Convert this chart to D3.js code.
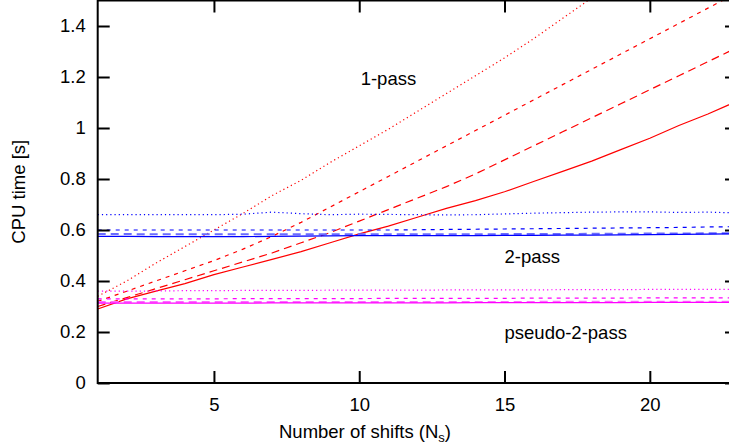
<!DOCTYPE html>
<html>
<head>
<meta charset="utf-8">
<script src="https://cdn.jsdelivr.net/npm/d3@7"></script>
<style>
  body { margin: 0; background: #fff; }
  text { font-family: "Liberation Sans", Arial, sans-serif; fill: #000; }
</style>
</head>
<body>
<script>
// number of shifts
var shifts = d3.range(1, 24);

// 1-pass (red)
var onePassDot   = [0.34,0.40,0.47,0.535,0.60,0.665,0.735,0.795,0.865,0.93,0.995,1.065,1.135,1.205,1.275,1.35,1.43,1.51,1.59,1.67,1.75,1.83,1.91];
var onePassShort = [0.32,0.36,0.40,0.44,0.48,0.525,0.575,0.63,0.69,0.75,0.81,0.87,0.93,0.99,1.05,1.11,1.17,1.23,1.29,1.35,1.41,1.47,1.53];
var onePassLong  = [0.30,0.335,0.37,0.405,0.44,0.475,0.51,0.55,0.59,0.635,0.68,0.725,0.77,0.82,0.875,0.93,0.985,1.04,1.095,1.15,1.205,1.26,1.315];
var onePassSolid = [0.29,0.33,0.36,0.39,0.425,0.455,0.485,0.515,0.55,0.585,0.615,0.65,0.685,0.715,0.75,0.79,0.83,0.87,0.915,0.96,1.01,1.055,1.105];

// 2-pass (blue)
var twoPassDot   = [0.66,0.66,0.66,0.66,0.66,0.662,0.67,0.664,0.66,0.662,0.661,0.66,0.659,0.66,0.663,0.666,0.668,0.67,0.671,0.671,0.669,0.67,0.667];
var twoPassShort = [0.60,0.60,0.60,0.60,0.60,0.60,0.60,0.60,0.60,0.60,0.60,0.601,0.602,0.603,0.604,0.605,0.606,0.607,0.608,0.609,0.61,0.612,0.613];
var twoPassLong  = [0.584,0.584,0.583,0.583,0.583,0.583,0.583,0.583,0.583,0.583,0.583,0.583,0.583,0.583,0.584,0.584,0.584,0.585,0.585,0.586,0.586,0.587,0.587];
var twoPassSolid = [0.575,0.575,0.574,0.574,0.574,0.574,0.575,0.576,0.577,0.578,0.578,0.578,0.578,0.578,0.579,0.579,0.58,0.58,0.581,0.582,0.583,0.584,0.585];

// pseudo-2-pass (magenta)
var pseudoDot   = [0.36,0.36,0.361,0.362,0.362,0.363,0.363,0.363,0.364,0.364,0.364,0.364,0.365,0.365,0.365,0.365,0.366,0.366,0.366,0.367,0.367,0.367,0.367];
var pseudoShort = [0.33,0.33,0.33,0.33,0.33,0.331,0.331,0.331,0.331,0.331,0.332,0.332,0.332,0.332,0.332,0.333,0.333,0.333,0.333,0.334,0.334,0.334,0.334];
var pseudoLong  = [0.318,0.318,0.318,0.318,0.318,0.318,0.318,0.318,0.318,0.318,0.318,0.318,0.318,0.318,0.318,0.318,0.319,0.319,0.319,0.319,0.319,0.319,0.319];
var pseudoSolid = [0.313,0.313,0.313,0.313,0.313,0.313,0.314,0.314,0.314,0.314,0.314,0.314,0.314,0.315,0.315,0.315,0.315,0.315,0.315,0.316,0.316,0.316,0.316];

var yTicks = [0, 0.2, 0.4, 0.6, 0.8, 1, 1.2, 1.4];
var xTicks = [5, 10, 15, 20];

var series = [
  {v: onePassDot,   c: "#ff0000", dash: "1.2,3", w: 1.2},
  {v: onePassShort, c: "#ff0000", dash: "4,5",   w: 1.2},
  {v: onePassLong,  c: "#ff0000", dash: "8,5",   w: 1.2},
  {v: onePassSolid, c: "#ff0000", dash: null,    w: 1.2},
  {v: twoPassDot,   c: "#0000ff", dash: "1.2,3", w: 1.2},
  {v: twoPassShort, c: "#0000ff", dash: "4,5",   w: 1.2},
  {v: twoPassLong,  c: "#6b6bff", dash: "8,5",   w: 2},
  {v: twoPassSolid, c: "#0000ff", dash: null,    w: 1.2},
  {v: pseudoDot,    c: "#ff00ff", dash: "1.2,3", w: 1.2},
  {v: pseudoShort,  c: "#ff00ff", dash: "4,5",   w: 1.2},
  {v: pseudoLong,   c: "#ff6bff", dash: "8,5",   w: 2},
  {v: pseudoSolid,  c: "#ff00ff", dash: null,    w: 1.2}
];

var W = 729, H = 448, FS = "18.5px";
var x = d3.scaleLinear().domain([1, 23]).range([97.7, 737]);
var y = d3.scaleLinear().domain([0, 1.5]).range([383, 0.5]);

var svg = d3.select("body").append("svg")
    .attr("width", W)
    .attr("height", H);

svg.append("clipPath").attr("id", "plot")
  .append("rect")
    .attr("x", x(1)).attr("y", y(1.5))
    .attr("width", x(23) - x(1)).attr("height", y(0) - y(1.5));

var line = d3.line()
    .x(function(d, i) { return x(shifts[i]); })
    .y(function(d) { return y(d); });

svg.append("g").attr("clip-path", "url(#plot)")
  .selectAll("path")
  .data(series)
  .enter().append("path")
    .attr("d", function(d) { return line(d.v); })
    .attr("fill", "none")
    .attr("stroke", function(d) { return d.c; })
    .attr("stroke-width", function(d) { return d.w; })
    .attr("stroke-dasharray", function(d) { return d.dash; });

// axes, ticks inward on all sides
var axLeft = svg.append("g")
    .attr("transform", "translate(" + x(1) + ",0)")
    .call(d3.axisLeft(y).tickValues(yTicks).tickSize(-12).tickPadding(12)
      .tickFormat(function(d) { return d3.format("~g")(d); }));
var axBottom = svg.append("g")
    .attr("transform", "translate(0," + y(0) + ")")
    .call(d3.axisBottom(x).tickValues(xTicks).tickSize(-12).tickPadding(15));
var axTop = svg.append("g")
    .attr("transform", "translate(0," + y(1.5) + ")")
    .call(d3.axisTop(x).tickValues(xTicks).tickSize(-12).tickFormat(""));
var axRight = svg.append("g")
    .attr("transform", "translate(" + x(23) + ",0)")
    .call(d3.axisRight(y).tickValues(yTicks).tickSize(-12).tickFormat(""));

[axLeft, axBottom, axTop, axRight].forEach(function(g) {
  g.select(".domain").remove();
  g.selectAll(".tick line").attr("stroke", "#000").attr("stroke-width", 2);
  g.selectAll("text").style("font-size", FS).attr("fill", "#000")
    .style("font-family", "'Liberation Sans', Arial, sans-serif");
});

svg.append("rect")
    .attr("x", x(1)).attr("y", y(1.5))
    .attr("width", x(23) - x(1)).attr("height", y(0) - y(1.5))
    .attr("fill", "none").attr("stroke", "#000").attr("stroke-width", 2);

// axis titles
svg.append("text")
    .attr("transform", "translate(25," + (y(0.75)) + ") rotate(-90)")
    .attr("text-anchor", "middle")
    .style("font-size", FS)
    .text("CPU time [s]");

var xl = svg.append("text")
    .attr("x", 365).attr("y", 438)
    .attr("text-anchor", "middle")
    .style("font-size", FS);
xl.append("tspan").text("Number of shifts (N");
xl.append("tspan").attr("baseline-shift", "-30%").style("font-size", "13px").text("s");
xl.append("tspan").text(")");

// labels in the plot
var notes = [
  {t: "1-pass", n: 10.05, v: 1.17},
  {t: "2-pass", n: 15.0, v: 0.47},
  {t: "pseudo-2-pass", n: 15.0, v: 0.172}
];
svg.selectAll(".note")
  .data(notes)
  .enter().append("text")
    .attr("class", "note")
    .attr("x", function(d) { return x(d.n); })
    .attr("y", function(d) { return y(d.v); })
    .style("font-size", FS)
    .text(function(d) { return d.t; });
</script>
</body>
</html>
